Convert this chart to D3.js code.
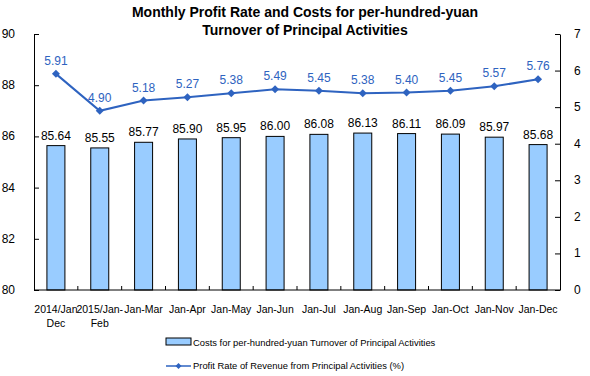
<!DOCTYPE html>
<html>
<head>
<meta charset="utf-8">
<script src="https://cdn.jsdelivr.net/npm/d3@7"></script>
<style>
  body { margin: 0; background: #fff; }
  svg { font-family: Arial, "Liberation Sans", sans-serif; }
</style>
</head>
<body>
<svg id="chart" width="590" height="376"></svg>
<script>
// chart data
var categories = [["2014/Jan", "Dec"], ["2015/Jan-", "Feb"], ["Jan-Mar"], ["Jan-Apr"], ["Jan-May"], ["Jan-Jun"],
    ["Jan-Jul"], ["Jan-Aug"], ["Jan-Sep"], ["Jan-Oct"], ["Jan-Nov"], ["Jan-Dec"]];
var costs = [85.64, 85.55, 85.77, 85.90, 85.95, 86.00, 86.08, 86.13, 86.11, 86.09, 85.97, 85.68];
var profitRate = [5.91, 4.90, 5.18, 5.27, 5.38, 5.49, 5.45, 5.38, 5.40, 5.45, 5.57, 5.76];
var leftTicks = [80, 82, 84, 86, 88, 90];
var rightTicks = [0, 1, 2, 3, 4, 5, 6, 7];

var svg = d3.select("#chart");
var mLeft = 34, mRight = 560, mTop = 34, mBottom = 290;
var blue = "#2E63C0";

var x = d3.scaleBand().domain(d3.range(categories.length)).range([mLeft, mRight]);
var yL = d3.scaleLinear().domain([80, 90]).range([mBottom, mTop]);
var yR = d3.scaleLinear().domain([0, 7]).range([mBottom, mTop]);
function cx(i) { return x(i) + x.bandwidth() / 2; }

// title
svg.append("text").attr("x", 305).attr("y", 17).attr("text-anchor", "middle")
    .attr("font-size", 14).attr("font-weight", "bold").text("Monthly Profit Rate and Costs for per-hundred-yuan");
svg.append("text").attr("x", 305).attr("y", 35).attr("text-anchor", "middle")
    .attr("font-size", 14).attr("font-weight", "bold").text("Turnover of Principal Activities");

// bars
var bw = 18;
svg.append("g").selectAll("rect").data(costs).join("rect")
    .attr("x", function(d, i) { return cx(i) - bw / 2; })
    .attr("y", function(d) { return yL(d); })
    .attr("width", bw)
    .attr("height", function(d) { return mBottom - yL(d); })
    .attr("fill", "#99CCFF").attr("stroke", "#000").attr("stroke-width", 1);

svg.append("g").selectAll("text").data(costs).join("text")
    .attr("x", function(d, i) { return cx(i); })
    .attr("y", function(d) { return yL(d) - 6; })
    .attr("text-anchor", "middle").attr("font-size", 12).attr("fill", "#000")
    .text(function(d) { return d.toFixed(2); });

// left axis
var axL = svg.append("g").attr("transform", "translate(" + mLeft + ",0)")
    .call(d3.axisRight(yL).tickValues(leftTicks).tickSize(5).tickSizeOuter(0).tickFormat(""));
axL.selectAll("path, line").attr("stroke", "#000");
svg.append("g").selectAll("text").data(leftTicks).join("text")
    .attr("x", 15).attr("y", function(d) { return yL(d) + 4; })
    .attr("text-anchor", "end").attr("font-size", 12).text(function(d) { return d; });

// right axis
var axR = svg.append("g").attr("transform", "translate(" + mRight + ",0)")
    .call(d3.axisLeft(yR).tickValues(rightTicks).tickSize(5).tickSizeOuter(0).tickFormat(""));
axR.selectAll("path, line").attr("stroke", "#000");
svg.append("g").selectAll("text").data(rightTicks).join("text")
    .attr("x", 574).attr("y", function(d) { return yR(d) + 4; })
    .attr("text-anchor", "start").attr("font-size", 12).text(function(d) { return d; });

// bottom axis
svg.append("line").attr("x1", mLeft).attr("x2", mRight).attr("y1", mBottom).attr("y2", mBottom).attr("stroke", "#000");
svg.append("g").selectAll("line").data(d3.range(1, categories.length)).join("line")
    .attr("x1", function(i) { return x(i); }).attr("x2", function(i) { return x(i); })
    .attr("y1", mBottom).attr("y2", mBottom - 4).attr("stroke", "#000");

var xl = svg.append("g").selectAll("text").data(categories).join("text")
    .attr("x", function(d, i) { return cx(i); })
    .attr("y", 313).attr("text-anchor", "middle").attr("font-size", 10.5);
xl.selectAll("tspan").data(function(d) { return d; }).join("tspan")
    .attr("x", function() { return d3.select(this.parentNode).attr("x"); })
    .attr("dy", function(d, j) { return j ? 14 : 0; })
    .text(function(d) { return d; });

// line
var line = d3.line()
    .x(function(d, i) { return cx(i); })
    .y(function(d) { return yR(d); });
svg.append("path").datum(profitRate).attr("d", line)
    .attr("fill", "none").attr("stroke", blue).attr("stroke-width", 2);
svg.append("g").selectAll("path").data(profitRate).join("path")
    .attr("transform", function(d, i) { return "translate(" + cx(i) + "," + yR(d) + ")"; })
    .attr("d", "M0,-4L4,0L0,4L-4,0Z").attr("fill", blue);
svg.append("g").selectAll("text").data(profitRate).join("text")
    .attr("x", function(d, i) { return cx(i); })
    .attr("y", function(d) { return yR(d) - 9; })
    .attr("text-anchor", "middle").attr("font-size", 12).attr("fill", blue)
    .text(function(d) { return d.toFixed(2); });

// legend
svg.append("rect").attr("x", 166).attr("y", 338).attr("width", 25).attr("height", 7)
    .attr("fill", "#99CCFF").attr("stroke", "#000");
svg.append("text").attr("x", 193).attr("y", 346).attr("font-size", 9.4)
    .text("Costs for per-hundred-yuan Turnover of Principal Activities");
svg.append("line").attr("x1", 166).attr("x2", 191).attr("y1", 366).attr("y2", 366)
    .attr("stroke", blue).attr("stroke-width", 1.5);
svg.append("path").attr("transform", "translate(178.5,366)").attr("d", "M0,-3L3,0L0,3L-3,0Z").attr("fill", blue);
svg.append("text").attr("x", 193).attr("y", 369).attr("font-size", 9.4)
    .text("Profit Rate of Revenue from Principal Activities  (%)");
</script>
</body>
</html>
